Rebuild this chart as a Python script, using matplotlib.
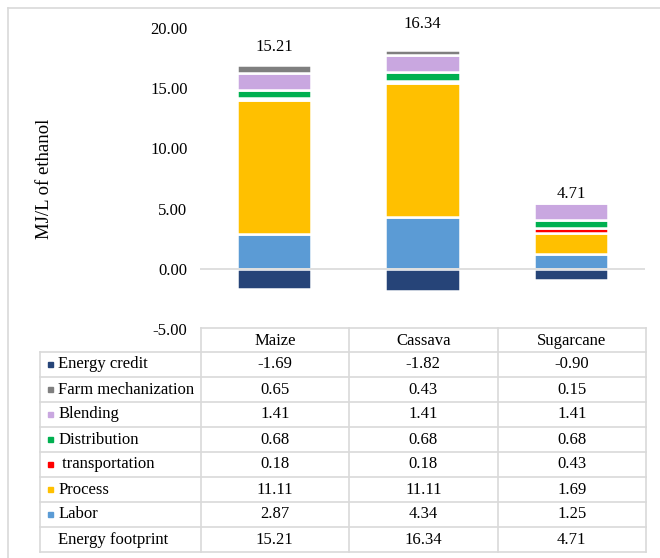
import numpy as np
import matplotlib as mpl
mpl.use('Agg')
import matplotlib.pyplot as plt
from matplotlib.patches import Rectangle

plt.rcParams['font.family'] = ['Liberation Serif', 'DejaVu Serif']

crops = ['Maize', 'Cassava', 'Sugarcane']
labor = [2.87, 4.34, 1.25]
process = [11.11, 11.11, 1.69]
transportation = [0.18, 0.18, 0.43]
distribution = [0.68, 0.68, 0.68]
blending = [1.41, 1.41, 1.41]
farm_mech = [0.65, 0.43, 0.15]
energy_credit = [-1.69, -1.82, -0.90]
footprint = [15.21, 16.34, 4.71]

# stacking order from the zero line upward
stack = [('Labor', labor, '#5b9bd5'),
         ('Process', process, '#ffc000'),
         (' transportation', transportation, '#ff0000'),
         ('Distribution', distribution, '#00b050'),
         ('Blending', blending, '#c9a7e0'),
         ('Farm mechanization', farm_mech, '#7f7f7f')]
credit_color = '#264478'

# table rows, top to bottom
rows = [('Energy credit', energy_credit, credit_color),
        ('Farm mechanization', farm_mech, '#7f7f7f'),
        ('Blending', blending, '#c9a7e0'),
        ('Distribution', distribution, '#00b050'),
        (' transportation', transportation, '#ff0000'),
        ('Process', process, '#ffc000'),
        ('Labor', labor, '#5b9bd5'),
        ('Energy footprint', footprint, None)]

W, H = 660, 558
fig = plt.figure(figsize=(6.6, 5.58), dpi=100)

def px_axes(x0, y0, x1, y1):
    return fig.add_axes([x0 / W, 1 - y1 / H, (x1 - x0) / W, (y1 - y0) / H])

# outer chart frame (only left/top edges fall inside the canvas)
fig.add_artist(plt.Line2D([8 / W, 8 / W], [0, 1 - 8 / H], color='#d9d9d9', lw=1.2))
fig.add_artist(plt.Line2D([8 / W, 1], [1 - 8 / H, 1 - 8 / H], color='#d9d9d9', lw=1.2))

ax = px_axes(200, 28, 645, 329)
x = np.arange(len(crops))
bottom = np.zeros(len(crops))
for name, vals, col in stack:
    ax.bar(x, vals, 0.5, bottom=bottom, color=col, edgecolor='white', linewidth=1.8)
    bottom += np.array(vals)
ax.bar(x, energy_credit, 0.5, color=credit_color, edgecolor='white', linewidth=1.8)

# footprint labels sit a little above each stack
label_lift = [18, 26, 7]
for i, v in enumerate(footprint):
    ax.annotate('%.2f' % v, (x[i], bottom[i]), xytext=(0, label_lift[i]),
                textcoords='offset pixels', ha='center', va='center', fontsize=12,
                annotation_clip=False)

ax.axhline(0, color='#d9d9d9', lw=1.2)
ax.set_xlim(-0.5, 2.5)
ax.set_ylim(-5, 20)
ax.set_yticks(np.arange(-5, 21, 5))
ax.set_yticklabels(['%.2f' % t for t in np.arange(-5, 21, 5)], fontsize=12)
ax.tick_params(axis='y', length=0, pad=9)
ax.set_xticks([])
for s in ax.spines.values():
    s.set_visible(False)
ax.set_ylabel('MJ/L of ethanol', fontsize=13.5)
ax.yaxis.set_label_coords(-0.33, 0.5)
ax.patch.set_alpha(0)

# data table under the plot
tx = px_axes(40, 328, 646, 552)
left = -0.5 - 160 / 148.0
tx.set_xlim(left, 2.5)
tx.set_ylim(len(rows) + 0.96, 0)
tx.axis('off')
grid = '#d9d9d9'
lw = 1.2
# header row
tx.plot([-0.5, 2.5], [0, 0], color=grid, lw=lw, clip_on=False)
for i, c in enumerate(crops):
    tx.text(i, 0.52, c, ha='center', va='center', fontsize=12)
top = 0.96
for r in range(len(rows) + 1):
    tx.plot([left, 2.5], [top + r, top + r], color=grid, lw=lw, clip_on=False)
tx.plot([left, left], [top, top + len(rows)], color=grid, lw=lw, clip_on=False)
for xb in [-0.5, 0.5, 1.5, 2.5]:
    tx.plot([xb, xb], [0, top + len(rows)], color=grid, lw=lw, clip_on=False)
for r, (name, vals, col) in enumerate(rows):
    yc = top + r + 0.5
    if col is not None:
        tx.add_patch(Rectangle((left + 8 / 148.0, yc - 0.11), 5 / 148.0, 0.22,
                               color=col, clip_on=False))
    tx.text(left + 18 / 148.0, yc, name, ha='left', va='center', fontsize=12)
    for i, v in enumerate(vals):
        tx.text(i, yc, '%.2f' % v, ha='center', va='center', fontsize=12)

fig.savefig('out.png', dpi=100)
